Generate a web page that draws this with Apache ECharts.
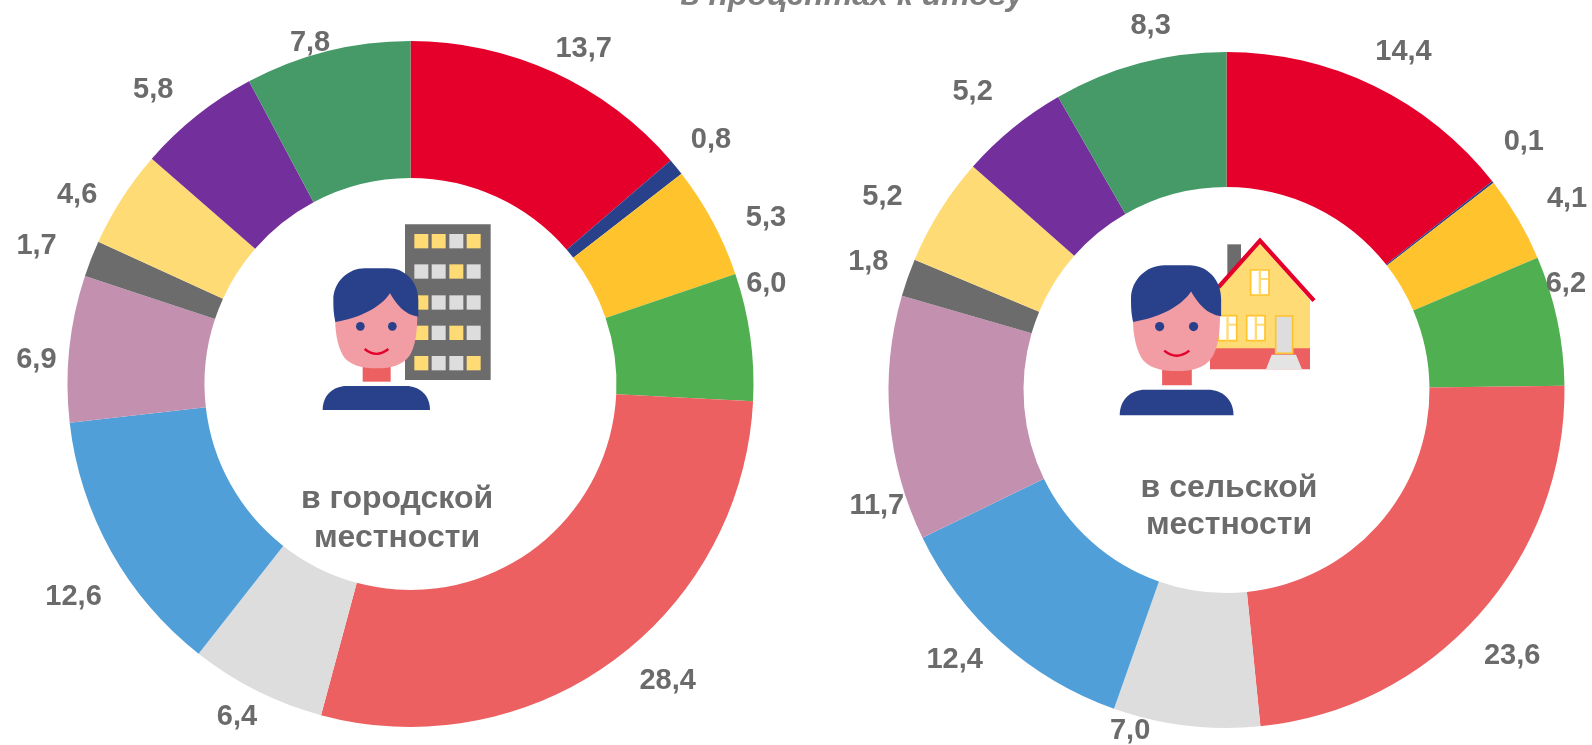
<!DOCTYPE html>
<html>
<head>
<meta charset="utf-8">
<style>
  html, body { margin: 0; padding: 0; background: #fff; }
  #main { width: 1592px; height: 745px; }
</style>
<script src="https://cdn.jsdelivr.net/npm/echarts@6/dist/echarts.min.js"></script>
</head>
<body>
<div id="main"></div>
<script>
// values, clockwise from 12 o'clock
var cityValues = [13.7, 0.8, 5.3, 6.0, 28.4, 6.4, 12.6, 6.9, 1.7, 4.6, 5.8, 7.8];
var villageValues = [14.4, 0.1, 4.1, 6.2, 23.6, 7.0, 12.4, 11.7, 1.8, 5.2, 5.2, 8.3];
var sliceColors = ['#E4002B', '#28418A', '#FFC32D', '#50AF50', '#EC6061', '#DDDDDD',
                   '#519FD9', '#C490B0', '#6C6C6C', '#FFDB75', '#732F9C', '#459A68'];

// label placement: [distance from centre, degrees away from the slice's mid angle]
var cityLabelNudge = [[378, 2.6], [388, 0], [393, 3], [370, -8], [392, -5], [374, 1],
                      [398, -3], [375, -2], [399, -1], [384, -3], [392, -2.5], [357, -2.3]];
var villageLabelNudge = [[383, 1.6], [388, -2], [391, 1], [356, -5.7], [389, 1], [353, 9],
                         [382, 3.6], [368, -13.3], [381, 0.5], [395, -2.6], [393, -1], [373, 3.2]];

var TEXT_GRAY = '#6B6B6B';
var FONT = '"Liberation Sans", Arial, sans-serif';

// icon outlines, in the units of a 3x crop
function regShape(name, d) {
    echarts.graphic.registerShape(name, echarts.graphic.extendPath(d, {}));
}
regShape('iconFace', 'M165 280 L412 280 L412 340 C412 400 405 440 390 465 C370 495 335 505 290 505 C245 505 205 495 188 465 C172 435 165 400 165 340 Z');
regShape('iconHair', 'M166 366 C160 340 160 320 160 300 C160 245 205 205 255 205 L325 205 C375 205 415 245 415 300 L415 350 C375 345 350 315 330 280 C300 325 235 355 166 366 Z');
regShape('iconSmile', 'M254 447 Q289 476 325 447');
regShape('iconBody', 'M128 630 C128 585 160 558 200 558 L378 558 C418 558 450 585 450 630 Z');

function fmt(v) {
    return v.toFixed(1).replace('.', ',');
}

function pieSeries(values, nudge, cx, cy, inner, outer) {
    var total = values.reduce(function (a, b) { return a + b; }, 0);
    var mids = [], run = 0;
    values.forEach(function (v) {
        mids.push((run + v / 2) / total * 360);
        run += v;
    });
    return {
        type: 'pie',
        center: [cx, cy],
        radius: [inner, outer],
        startAngle: 90,
        clockwise: true,
        avoidLabelOverlap: false,
        silent: true,
        animation: false,
        data: values.map(function (v, i) {
            return { value: v, itemStyle: { color: sliceColors[i] } };
        }),
        label: {
            show: true,
            position: 'outside',
            color: TEXT_GRAY,
            fontFamily: FONT,
            fontWeight: 'bold',
            fontSize: 29,
            formatter: function (p) { return fmt(p.value); }
        },
        labelLine: { show: false },
        labelLayout: function (p) {
            var n = nudge[p.dataIndex];
            var a = (mids[p.dataIndex] + n[1]) * Math.PI / 180;
            return {
                x: cx + n[0] * Math.sin(a),
                y: cy - n[0] * Math.cos(a) + 1.5,
                align: 'center',
                verticalAlign: 'middle'
            };
        }
    };
}

function person(x, y, s) {
    return {
        type: 'group', x: x, y: y, scaleX: s, scaleY: s,
        children: [
            { type: 'rect', shape: { x: 248, y: 490, width: 84, height: 55 }, style: { fill: '#EC6061' } },
            { type: 'iconFace', style: { fill: '#F29CA3' } },
            { type: 'iconHair', style: { fill: '#28418A' } },
            { type: 'circle', shape: { cx: 241, cy: 379, r: 13 }, style: { fill: '#28418A' } },
            { type: 'circle', shape: { cx: 337, cy: 379, r: 13 }, style: { fill: '#28418A' } },
            { type: 'iconSmile', style: { fill: 'none', stroke: '#E4002B', lineWidth: 7 } },
            { type: 'iconBody', style: { fill: '#28418A' } }
        ]
    };
}

function building() {
    var rows = ['YYGY', 'GGYG', 'YGGG', 'YGYG', 'YGGY'];
    var rowY = [102, 193, 286, 377, 468];
    var colX = [403, 455, 508, 560];
    var kids = [{ type: 'rect', shape: { x: 375, y: 73, width: 257, height: 467 }, style: { fill: '#6C6C6C' } }];
    rows.forEach(function (row, r) {
        colX.forEach(function (cx, c) {
            kids.push({
                type: 'rect',
                shape: { x: cx, y: rowY[r], width: 42, height: 43 },
                style: { fill: row[c] === 'Y' ? '#FFDB75' : '#DDDDDD' }
            });
        });
    });
    return { type: 'group', x: 280, y: 200, scaleX: 1 / 3, scaleY: 1 / 3, children: kids };
}

function houseWindow(x, y) {
    return [
        { type: 'rect', shape: { x: x, y: y, width: 55, height: 75 }, style: { fill: '#fff', stroke: '#FFC32D', lineWidth: 5 } },
        { type: 'rect', shape: { x: x + 24, y: y, width: 7, height: 75 }, style: { fill: '#FFDB75' } },
        { type: 'rect', shape: { x: x + 31, y: y + 24, width: 22, height: 6 }, style: { fill: '#FFDB75' } }
    ];
}

function house() {
    var kids = [
        { type: 'rect', shape: { x: 412, y: 103, width: 41, height: 110 }, style: { fill: '#6C6C6C' } },
        { type: 'polygon', shape: { points: [[360, 265], [510, 98], [660, 270], [660, 420], [360, 420]] }, style: { fill: '#FFDB75' } },
        { type: 'rect', shape: { x: 360, y: 415, width: 300, height: 63 }, style: { fill: '#EC6061' } },
        { type: 'polyline', shape: { points: [[385, 232], [510, 92], [672, 272]] }, style: { fill: 'none', stroke: '#E4002B', lineWidth: 13 } },
        { type: 'rect', shape: { x: 557, y: 318, width: 51, height: 112 }, style: { fill: '#DDDDDD', stroke: '#FFC32D', lineWidth: 5 } },
        { type: 'polygon', shape: { points: [[528, 478], [545, 434], [618, 434], [636, 478]] }, style: { fill: '#E4E4E4' } }
    ];
    kids = kids.concat(houseWindow(482, 180), houseWindow(385, 317), houseWindow(470, 317));
    return { type: 'group', x: 1090, y: 210, scaleX: 1 / 3, scaleY: 1 / 3, children: kids };
}

function caption(text, x, y, size, color, style) {
    return {
        type: 'text', x: x, y: y,
        style: {
            text: text, fill: color || TEXT_GRAY,
            font: (style || 'bold') + ' ' + (size || 32) + 'px ' + FONT,
            textAlign: 'center', textVerticalAlign: 'middle'
        }
    };
}

var myChart = echarts.init(document.getElementById('main'));
var option = {
    animation: false,
    backgroundColor: '#fff',
    series: [
        pieSeries(cityValues, cityLabelNudge, 410.5, 384, 206, 343),
        pieSeries(villageValues, villageLabelNudge, 1226.5, 390, 203, 338)
    ],
    graphic: {
        elements: [
            building(),
            person(280, 200, 1 / 3),
            house(),
            person(1074.5, 192.7, 0.3533),
            caption('в городской', 397, 499),
            caption('местности', 397, 538),
            caption('в сельской', 1229, 488),
            caption('местности', 1229, 525),
            caption('в процентах к итогу', 852, -4, 32, '#7F7F7F', 'italic bold')
        ]
    }
};
myChart.setOption(option);
</script>
</body>
</html>
